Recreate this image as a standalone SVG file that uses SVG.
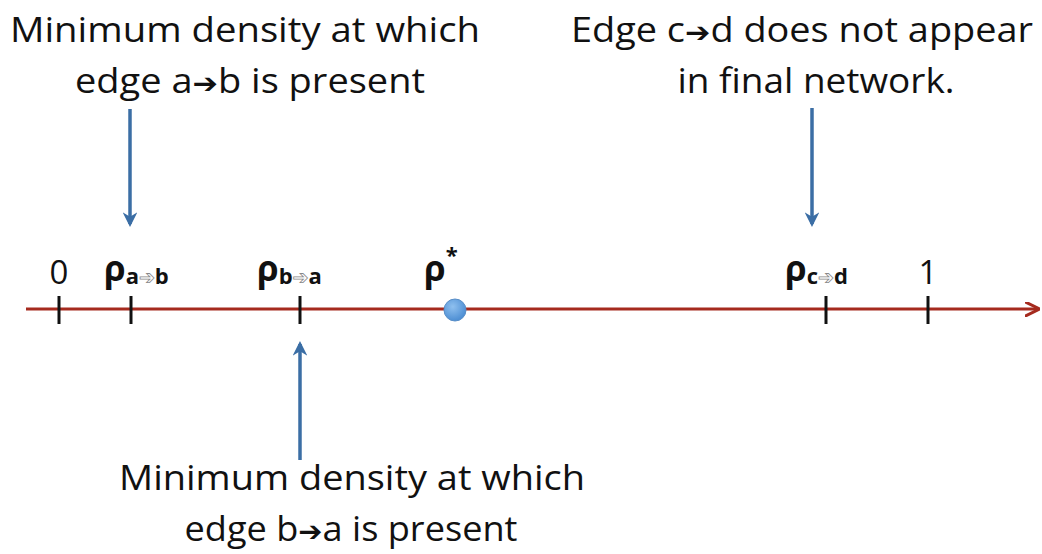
<svg xmlns="http://www.w3.org/2000/svg" width="1042" height="554" viewBox="0 0 1042 554">
<defs>
<marker id="blueHead" viewBox="0 0 10 10" refX="8" refY="5" markerWidth="4.2" markerHeight="4.2" orient="auto" markerUnits="strokeWidth">
<path d="M0,0 L10,5 L0,10 L3,5 z" fill="#3b6ea5"/>
</marker>
<marker id="redHead" viewBox="0 0 10 10" refX="9" refY="5" markerWidth="5" markerHeight="5" orient="auto" markerUnits="strokeWidth">
<path d="M0,0 L10,5 L0,10" fill="none" stroke="#a52a1e" stroke-width="2"/>
</marker>
<radialGradient id="dot" cx="40%" cy="35%" r="65%">
<stop offset="0" stop-color="#8fc0ef"/>
<stop offset="1" stop-color="#4d8ed3"/>
</radialGradient>
</defs>
<style>
.lbl{font-family:"Open Sans","Liberation Sans",sans-serif;font-size:35px;fill:#111;}
.arr{font-family:"DejaVu Sans",sans-serif;font-weight:bold;}
.rho{font-family:"Open Sans","Liberation Sans",sans-serif;font-weight:bold;font-size:35px;fill:#111;}
.sub{font-family:"Open Sans","Liberation Sans",sans-serif;font-weight:bold;font-size:22px;fill:#111;}
.subarr{font-family:"DejaVu Sans",sans-serif;font-size:19px;fill:#fff;stroke:#888;stroke-width:0.8;}
.num{font-family:"Open Sans","Liberation Sans",sans-serif;font-size:33px;fill:#111;}
.tick{stroke:#111;stroke-width:3;}
.conn{stroke:#3b6ea5;stroke-width:3.5;fill:none;marker-end:url(#blueHead);}
</style>
<rect width="1042" height="554" fill="#fff"/>
<g id="axis">
<line x1="26" y1="309" x2="1038" y2="309" stroke="#a52a1e" stroke-width="3" marker-end="url(#redHead)"/>
<line class="tick" x1="59" y1="296" x2="59" y2="324"/>
<line class="tick" x1="131" y1="296" x2="131" y2="324"/>
<line class="tick" x1="300" y1="296" x2="300" y2="324"/>
<line class="tick" x1="826" y1="296" x2="826" y2="324"/>
<line class="tick" x1="928" y1="296" x2="928" y2="324"/>
</g>
<g id="tick-labels">
<text class="num" x="59" y="284" text-anchor="middle">0</text>
<text class="num" x="928" y="284" text-anchor="middle">1</text>
<text x="104" y="281"><tspan class="rho">ρ</tspan><tspan class="sub" dy="3">a</tspan><tspan class="subarr">➔</tspan><tspan class="sub">b</tspan></text>
<text x="257" y="281"><tspan class="rho">ρ</tspan><tspan class="sub" dy="3">b</tspan><tspan class="subarr">➔</tspan><tspan class="sub">a</tspan></text>
<text x="785" y="281"><tspan class="rho">ρ</tspan><tspan class="sub" dy="3">c</tspan><tspan class="subarr">➔</tspan><tspan class="sub">d</tspan></text>
<text x="424" y="281"><tspan class="rho">ρ</tspan><tspan class="sub" dy="-18">*</tspan></text>
</g>
<g id="rho-star">
<circle cx="455" cy="310" r="11" fill="url(#dot)" stroke="#5a8fc8" stroke-width="1"/>
</g>
<g id="label-ab">
<text class="lbl" x="245" y="42" text-anchor="middle" textLength="470" lengthAdjust="spacingAndGlyphs">Minimum density at which</text>
<text class="lbl" x="250" y="93" text-anchor="middle" textLength="350" lengthAdjust="spacingAndGlyphs">edge a<tspan class="arr" font-size="28">➔</tspan>b is present</text>
</g>
<g id="label-cd">
<text class="lbl" x="802" y="42" text-anchor="middle" textLength="462" lengthAdjust="spacingAndGlyphs">Edge c<tspan class="arr" font-size="28">➔</tspan>d does not appear</text>
<text class="lbl" x="816" y="93" text-anchor="middle" textLength="277" lengthAdjust="spacingAndGlyphs">in final network.</text>
</g>
<g id="label-ba">
<text class="lbl" x="352" y="490" text-anchor="middle" textLength="466" lengthAdjust="spacingAndGlyphs">Minimum density at which</text>
<text class="lbl" x="351" y="541" text-anchor="middle" textLength="333" lengthAdjust="spacingAndGlyphs">edge b<tspan class="arr" font-size="28">➔</tspan>a is present</text>
</g>
<g id="connectors">
<line class="conn" x1="130" y1="109" x2="130" y2="224"/>
<line class="conn" x1="812" y1="108" x2="812" y2="224"/>
<line class="conn" x1="300" y1="460" x2="300" y2="344"/>
</g>
</svg>
